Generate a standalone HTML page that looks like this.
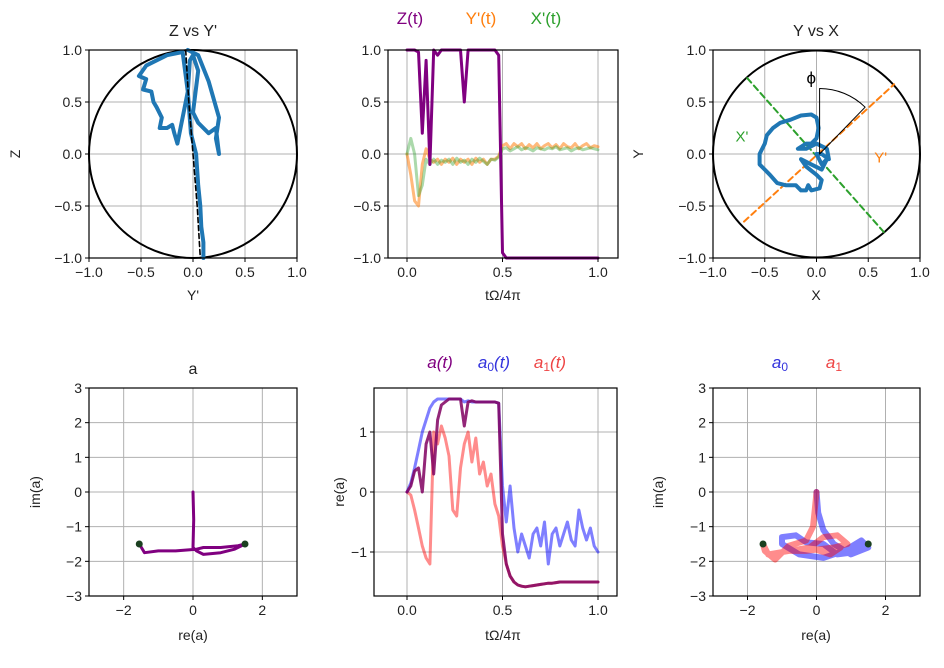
<!DOCTYPE html>
<html><head><meta charset="utf-8"><style>
body{margin:0;background:#fff}
svg{display:block;font-family:"Liberation Sans","DejaVu Sans",sans-serif}
</style></head><body>
<svg id="fig" width="944" height="668" viewBox="0 0 944 668" xmlns="http://www.w3.org/2000/svg"></svg>
<script>
// ---- data ----
const zyPathY = [0.1,0.1,0.08,0.07,0.05,0.03,-0.02,-0.05,-0.1,-0.25,-0.45,-0.52,-0.45,-0.48,-0.4,-0.38,-0.35,-0.3,-0.32,-0.25,-0.2,-0.18,-0.15,-0.1,-0.05,-0.03,0,0.05,0.0,0.05,0.15,0.22,0.25,0.22,0.25,0.15,0.05,-0.05];
const zyPathZ = [-1,-0.85,-0.7,-0.5,-0.3,0.0,0.2,0.6,0.98,0.95,0.85,0.75,0.72,0.62,0.6,0.5,0.45,0.35,0.25,0.25,0.28,0.2,0.1,0.35,0.6,0.9,0.95,0.8,0.4,0.3,0.2,0.25,0.0,0.15,0.35,0.7,0.95,1.0];
const zyDashY = [-0.07,-0.04,0.0,0.04,0.07];
const zyDashZ = [1,0.5,0,-0.5,-1];
const tTop = [0,0.02,0.04,0.06,0.08,0.1,0.12,0.14,0.16,0.18,0.2,0.22,0.24,0.26,0.28,0.3,0.32,0.34,0.36,0.38,0.4,0.42,0.44,0.46,0.48,0.5,0.52,0.54,0.56,0.58,0.6,0.62,0.64,0.66,0.68,0.7,0.72,0.74,0.76,0.78,0.8,0.82,0.84,0.86,0.88,0.9,0.92,0.94,0.96,0.98,1.0];
const zT = [1,1,1,0.98,0.2,0.9,-0.1,1,0.95,1,1,1,1,1,1,0.5,1,1,1,1,1,1,1,1,0.95,-0.95,-1,-1,-1,-1,-1,-1,-1,-1,-1,-1,-1,-1,-1,-1,-1,-1,-1,-1,-1,-1,-1,-1,-1,-1,-1];
const ypT = [0,-0.2,-0.45,-0.5,-0.1,0.05,-0.05,-0.08,-0.05,-0.1,-0.05,-0.08,-0.04,-0.1,-0.05,-0.08,-0.05,-0.1,-0.04,-0.08,-0.05,-0.1,-0.05,-0.05,-0.02,0.08,0.1,0.05,0.1,0.07,0.1,0.05,0.09,0.06,0.1,0.05,0.08,0.1,0.06,0.09,0.05,0.1,0.07,0.06,0.1,0.05,0.08,0.1,0.06,0.08,0.07];
const xpT = [0,0.15,0.0,-0.4,-0.3,-0.05,-0.1,-0.05,-0.1,-0.06,-0.08,-0.05,-0.1,-0.04,-0.08,-0.06,-0.1,-0.05,-0.08,-0.04,-0.07,-0.1,-0.05,-0.06,-0.03,0.05,0.06,0.03,0.05,0.07,0.04,0.06,0.05,0.03,0.06,0.05,0.04,0.06,0.05,0.07,0.04,0.05,0.06,0.03,0.05,0.06,0.04,0.05,0.06,0.05,0.04];
const yxPathX = [0.0,0.05,0.1,0.05,-0.05,-0.15,-0.1,0.0,0.05,0.03,-0.05,-0.08,-0.1,-0.15,-0.2,-0.3,-0.38,-0.45,-0.5,-0.55,-0.55,-0.5,-0.48,-0.42,-0.35,-0.25,-0.15,-0.05,0.0,0.02,0.0,-0.05,-0.1,-0.18,-0.1,0.0,0.1,0.12,0.05,0.0];
const yxPathY = [0.0,-0.1,-0.05,-0.15,-0.1,-0.05,-0.12,-0.2,-0.25,-0.33,-0.35,-0.3,-0.35,-0.35,-0.3,-0.3,-0.28,-0.2,-0.15,-0.1,0.0,0.1,0.18,0.25,0.3,0.33,0.37,0.38,0.35,0.25,0.15,0.1,0.1,0.05,0.05,0.1,0.05,-0.05,0.0,0.0];
const aPathRe = [0,0.02,0.0,0.1,0.3,0.8,1.2,1.5,1.3,0.8,0.3,0.1,-0.5,-1.0,-1.4,-1.55];
const aPathIm = [0,-0.8,-1.6,-1.7,-1.8,-1.75,-1.65,-1.5,-1.55,-1.6,-1.6,-1.65,-1.7,-1.7,-1.75,-1.5];
const aDotsRe = [-1.55,1.5];
const aDotsIm = [-1.5,-1.5];
const aT = [0,0.1,0.35,0.4,0.0,0.8,1.0,0.3,1.2,1.45,1.5,1.55,1.55,1.55,1.55,1.1,1.5,1.52,1.5,1.5,1.5,1.5,1.5,1.5,1.48,-0.7,-1.2,-1.4,-1.5,-1.55,-1.57,-1.58,-1.57,-1.56,-1.55,-1.54,-1.53,-1.52,-1.52,-1.51,-1.5,-1.5,-1.5,-1.5,-1.5,-1.5,-1.5,-1.5,-1.5,-1.5,-1.5];
const a0T = [0,0.15,0.4,0.7,1.0,1.2,1.4,1.5,1.55,1.55,1.55,1.55,1.55,1.55,1.55,1.5,1.52,1.5,1.5,1.5,1.5,1.5,1.5,1.5,1.48,0.1,-0.5,0.1,-0.6,-1.0,-0.7,-0.9,-1.1,-0.7,-0.6,-0.9,-0.5,-1.2,-0.7,-0.6,-0.9,-0.7,-0.5,-0.8,-0.9,-0.3,-0.6,-0.8,-0.6,-0.9,-1.0];
const a1T = [0,-0.05,-0.3,-0.6,-0.9,-1.1,-1.2,1.0,0.8,1.1,0.9,0.6,-0.3,-0.4,0.4,0.8,1.0,0.5,0.9,0.3,0.5,0.1,0.3,-0.2,-0.4,-0.9,-1.2,-1.4,-1.5,-1.55,-1.57,-1.58,-1.57,-1.56,-1.55,-1.54,-1.53,-1.52,-1.52,-1.51,-1.5,-1.5,-1.5,-1.5,-1.5,-1.5,-1.5,-1.5,-1.5,-1.5,-1.5];
const b0Re = [0,0.05,0.2,0.5,1.0,1.5,1.3,0.8,0.2,-0.5,-1.0,-1.0,-0.6,-0.3,0.2,0.6,1.0,1.5];
const b0Im = [0,-0.6,-1.1,-1.5,-1.8,-1.6,-1.4,-1.7,-1.9,-1.8,-1.5,-1.3,-1.25,-1.45,-1.5,-1.8,-1.75,-1.5];
const b1Re = [0,-0.05,-0.1,-0.3,-0.8,-1.2,-1.5,-1.55,-1.4,-0.8,-0.2,0.2,0.6,0.9,0.5,-0.3,-0.8,-0.2,0.4,0.7];
const b1Im = [0,-0.5,-1.0,-1.4,-1.55,-1.95,-1.7,-1.5,-1.8,-1.7,-1.6,-1.3,-1.25,-1.5,-1.6,-1.7,-1.7,-1.6,-1.8,-1.6];
const ticks1 = [-1.0,-0.5,0.0,0.5,1.0];
const ticksT = [0.0,0.5,1.0];
const ticksT2 = [-1.0,-0.5,0.0,0.5,1.0];
const ticks3 = [-3,-2,-1,0,1,2,3];
const ticks2 = [-2,0,2];
const ticksRe = [-1,0,1];

// ---- helpers ----
const NS='http://www.w3.org/2000/svg', fig=document.getElementById('fig');
function mk(tag,at,parent){const e=document.createElementNS(NS,tag);for(const k in at)e.setAttribute(k,at[k]);(parent||fig).appendChild(e);return e;}
function fmt(v,d){const s=v.toFixed(d);return s.replace('-','\u2212');}
function axes(name,L,T,R,B,x0,x1,y0,y1){
  const g=mk('g',{});
  
  
  return {g,L,T,R,B,sx:v=>L+(v-x0)/(x1-x0)*(R-L),sy:v=>B-(v-y0)/(y1-y0)*(B-T)};
}
function grid(a,xt,yt){
  xt.forEach(v=>{const x=a.sx(v);
    const l=mk('line',{x1:x,x2:x,y1:a.T,y2:a.B,stroke:'#b0b0b0','stroke-width':1},a.g);
    });
  yt.forEach(v=>{const y=a.sy(v);
    const l=mk('line',{x1:a.L,x2:a.R,y1:y,y2:y,stroke:'#b0b0b0','stroke-width':1},a.g);
    });
}
function frame(a,xt,yt,xd,yd){
  const r=mk('rect',{x:a.L,y:a.T,width:a.R-a.L,height:a.B-a.T,fill:'none',stroke:'#000','stroke-width':1.2},a.g);
  
  xt.forEach(v=>{const x=a.sx(v);
    mk('line',{x1:x,x2:x,y1:a.B,y2:a.B+4,stroke:'#000'},a.g);
    const t=mk('text',{x:x,y:a.B+19,'text-anchor':'middle','font-size':14,fill:'#222'},a.g);t.textContent=fmt(v,xd);
    });
  yt.forEach(v=>{const y=a.sy(v);
    mk('line',{x1:a.L-4,x2:a.L,y1:y,y2:y,stroke:'#000'},a.g);
    const t=mk('text',{x:a.L-7,y:y+5,'text-anchor':'end','font-size':14,fill:'#222'},a.g);t.textContent=fmt(v,yd);
    });
}
function line(a,xs,ys,st,name){
  const d=xs.map((v,i)=>(i?'L':'M')+a.sx(v).toFixed(1)+','+a.sy(ys[i]).toFixed(1)).join('');
  const p=mk('path',Object.assign({d:d,fill:'none','stroke-linejoin':'round','stroke-linecap':'round'},st),a.g);
  return p;
}
function text(x,y,s,at,name,parent){const t=mk('text',Object.assign({x:x,y:y,'font-size':14,fill:'#222'},at),parent);t.textContent=s;
  return t;}
function circle(a){const c=mk('circle',{cx:a.sx(0),cy:a.sy(0),r:(a.R-a.L)/2,fill:'none',stroke:'#000','stroke-width':2},a.g);
  }

// ---- panel 1: Z vs Y' ----
let a=axes('z-vs-y-panel',89,50,297,258,-1,1,-1,1);
grid(a,ticks1,ticks1);circle(a);
line(a,zyPathY,zyPathZ,{stroke:'#1f77b4','stroke-width':4},'zy-trajectory');
line(a,zyDashY,zyDashZ,{stroke:'#000','stroke-width':1.6,'stroke-dasharray':'5,3'},'zy-dashed-reference');
frame(a,ticks1,ticks1,1,1);
text(193,36,"Z vs Y'",{'text-anchor':'middle','font-size':16},'title-z-vs-y',a.g);
text(193,300,"Y'",{'text-anchor':'middle','font-size':14},'x-axis-title',a.g);
text(20,154,"Z",{'text-anchor':'middle','font-size':14,transform:'rotate(-90 20 154)'},'y-axis-title',a.g);

// ---- panel 2: time series ----
a=axes('bloch-time-panel',388,50,618,258,-0.1,1.1,-1,1);
a.sx=v=>407+v*(598-407);
grid(a,ticksT,ticksT2);
line(a,tTop,ypT,{stroke:'#ff7f0e','stroke-width':3,'stroke-opacity':0.55},'series-yprime-t');
line(a,tTop,xpT,{stroke:'#2ca02c','stroke-width':3,'stroke-opacity':0.4},'series-xprime-t');
line(a,tTop,zT,{stroke:'#800080','stroke-width':3},'series-z-t');
frame(a,ticksT,ticksT2,1,1);
text(410,24,"Z(t)",{'text-anchor':'middle','font-size':17,fill:'#800080'},'legend-z',a.g);
text(481,24,"Y'(t)",{'text-anchor':'middle','font-size':17,fill:'#ff7f0e'},'legend-yprime',a.g);
text(546,24,"X'(t)",{'text-anchor':'middle','font-size':17,fill:'#2ca02c'},'legend-xprime',a.g);
text(503,300,"tΩ/4π",{'text-anchor':'middle','font-size':14},'x-axis-title',a.g);

// ---- panel 3: Y vs X ----
a=axes('y-vs-x-panel',713,50,920,258,-1,1,-1,1);
grid(a,ticks1,ticks1);circle(a);
line(a,[-0.7,0.75],[-0.65,0.67],{stroke:'#ff7f0e','stroke-width':2,'stroke-dasharray':'6,4'},'yprime-axis-line');
line(a,[-0.67,0.65],[0.73,-0.75],{stroke:'#2ca02c','stroke-width':2,'stroke-dasharray':'6,4'},'xprime-axis-line');
line(a,yxPathX,yxPathY,{stroke:'#1f77b4','stroke-width':4},'yx-trajectory');
line(a,[0.03,0.03],[0,0.63],{stroke:'#000','stroke-width':1},'phi-vertical');
line(a,[0.03,0.47],[0,0.45],{stroke:'#000','stroke-width':1},'phi-ray');
{const p=mk('path',{d:`M${a.sx(0.03)},${a.sy(0.63)} A${0.63*103.5},${0.63*103.5} 0 0 1 ${a.sx(0.47)},${a.sy(0.45)}`,fill:'none',stroke:'#000','stroke-width':1},a.g);
}
text(a.sx(-0.05),a.sy(0.68),"ϕ",{'text-anchor':'middle','font-size':17,fill:'#000'},'phi-label',a.g);
text(a.sx(-0.72),a.sy(0.12),"X'",{'text-anchor':'middle','font-size':15,fill:'#2ca02c'},'xprime-label',a.g);
text(a.sx(0.62),a.sy(-0.08),"Y'",{'text-anchor':'middle','font-size':15,fill:'#ff7f0e'},'yprime-label',a.g);
frame(a,ticks1,ticks1,1,1);
text(816,36,"Y vs X",{'text-anchor':'middle','font-size':16},'title-y-vs-x',a.g);
text(816,300,"X",{'text-anchor':'middle','font-size':14},'x-axis-title',a.g);
text(643,154,"Y",{'text-anchor':'middle','font-size':14,transform:'rotate(-90 643 154)'},'y-axis-title',a.g);

// ---- panel 4: a ----
a=axes('a-complex-panel',89,388,297,596,-3,3,-3,3);
grid(a,ticks2,ticks3);
line(a,aPathRe,aPathIm,{stroke:'#800080','stroke-width':3},'a-trajectory');
aDotsRe.forEach((v,i)=>{const c=mk('circle',{cx:a.sx(v),cy:a.sy(aDotsIm[i]),r:3.5,fill:'#1a4020'},a.g);
  });
frame(a,ticks2,ticks3,0,0);
text(193,374,"a",{'text-anchor':'middle','font-size':16},'title-a',a.g);
text(193,640,"re(a)",{'text-anchor':'middle','font-size':14},'x-axis-title',a.g);
text(40,492,"im(a)",{'text-anchor':'middle','font-size':14,transform:'rotate(-90 40 492)'},'y-axis-title',a.g);

// ---- panel 5: re(a) vs t ----
a=axes('re-a-time-panel',374,388,617,596,-0.1,1.1,-1.733,1.733);
a.sx=v=>407+v*(598-407);
grid(a,ticksT,ticksRe);
line(a,tTop,a1T,{stroke:'#ff0000','stroke-width':3,'stroke-opacity':0.45},'series-a1-t');
line(a,tTop,a0T,{stroke:'#0000ff','stroke-width':3,'stroke-opacity':0.5},'series-a0-t');
line(a,tTop,aT,{stroke:'#800060','stroke-width':3,'stroke-opacity':0.85},'series-a-t');
frame(a,ticksT,ticksRe,1,0);
text(440,368,"a(t)",{'text-anchor':'middle','font-size':17,fill:'#800080','font-style':'italic'},'legend-a',a.g);
{const t=text(494,368,"a",{'text-anchor':'middle','font-size':17,fill:'#3333dd','font-style':'italic'},'legend-a0',a.g);t.innerHTML='a<tspan font-size="12" dy="3" font-style="normal">0</tspan><tspan dy="-3">(t)</tspan>';}
{const t=text(550,368,"a",{'text-anchor':'middle','font-size':17,fill:'#ee4444','font-style':'italic'},'legend-a1',a.g);t.innerHTML='a<tspan font-size="12" dy="3" font-style="normal">1</tspan><tspan dy="-3">(t)</tspan>';}
text(503,640,"tΩ/4π",{'text-anchor':'middle','font-size':14},'x-axis-title',a.g);
text(344,492,"re(a)",{'text-anchor':'middle','font-size':14,transform:'rotate(-90 344 492)'},'y-axis-title',a.g);

// ---- panel 6: a0, a1 complex ----
a=axes('a0-a1-complex-panel',713,388,920,596,-3,3,-3,3);
grid(a,ticks2,ticks3);
line(a,b0Re,b0Im,{stroke:'#0000ff','stroke-width':6,'stroke-opacity':0.5},'a0-trajectory');
line(a,b1Re,b1Im,{stroke:'#ff0000','stroke-width':6,'stroke-opacity':0.45},'a1-trajectory');
aDotsRe.forEach((v,i)=>{const c=mk('circle',{cx:a.sx(v),cy:a.sy(aDotsIm[i]),r:3.5,fill:'#1a4020'},a.g);
  });
frame(a,ticks2,ticks3,0,0);
{const t=text(780,368,"a",{'text-anchor':'middle','font-size':17,fill:'#3333dd','font-style':'italic'},'legend-a0',a.g);t.innerHTML='a<tspan font-size="12" dy="3" font-style="normal">0</tspan>';}
{const t=text(834,368,"a",{'text-anchor':'middle','font-size':17,fill:'#ee4444','font-style':'italic'},'legend-a1',a.g);t.innerHTML='a<tspan font-size="12" dy="3" font-style="normal">1</tspan>';}
text(816,640,"re(a)",{'text-anchor':'middle','font-size':14},'x-axis-title',a.g);
text(663,492,"im(a)",{'text-anchor':'middle','font-size':14,transform:'rotate(-90 663 492)'},'y-axis-title',a.g);
</script>
</body></html>
